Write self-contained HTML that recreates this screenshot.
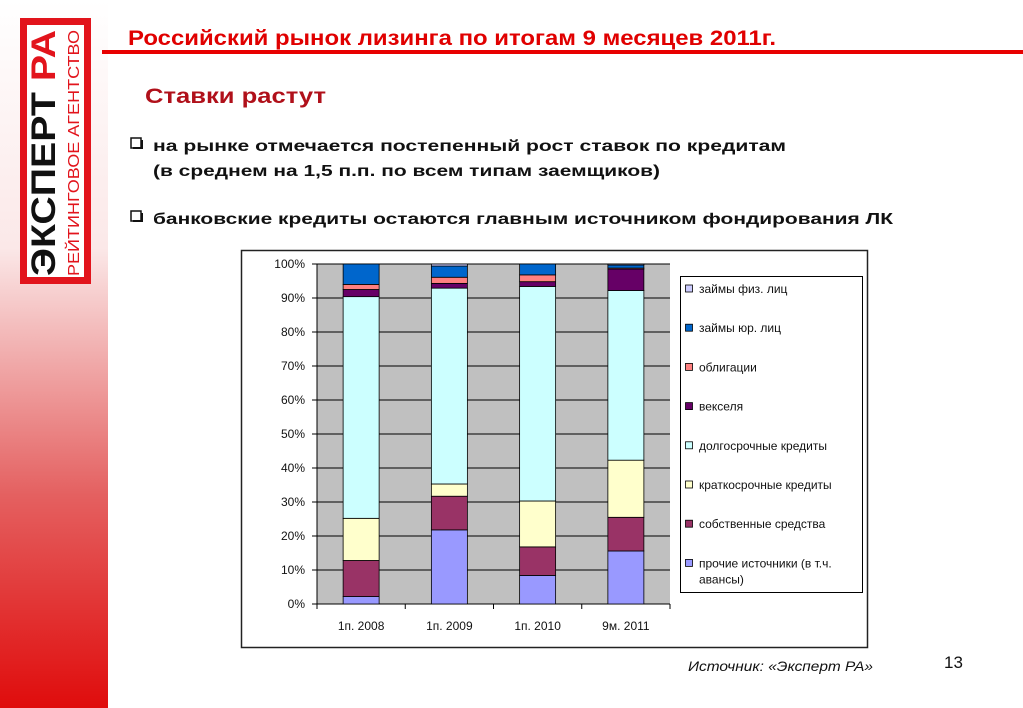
<!DOCTYPE html>
<html><head><meta charset="utf-8"><style>
html,body{margin:0;padding:0;background:#fff;}
svg{display:block;font-family:"Liberation Sans","DejaVu Sans",sans-serif;}
</style></head><body>
<svg id="root" width="1023" height="708" viewBox="0 0 1023 708" xmlns="http://www.w3.org/2000/svg">
<defs>
<linearGradient id="lg" x1="0" y1="0" x2="0" y2="1">
<stop offset="0" stop-color="#ffffff"/><stop offset="0.35" stop-color="#fbe8e8"/><stop offset="0.7" stop-color="#e46060"/><stop offset="1" stop-color="#e00c0c"/>
</linearGradient>
</defs>
<rect x="0" y="0" width="108" height="708" fill="url(#lg)"/>
<g>
<rect x="20" y="18" width="71" height="266" fill="#e2141c"/>
<rect x="27" y="25" width="57" height="252" fill="#fff"/>
<text transform="translate(55,276) rotate(-90)" font-size="34" font-weight="bold" textLength="246" lengthAdjust="spacingAndGlyphs" fill="#111">ЭКСПЕРТ <tspan fill="#e2141c">РА</tspan></text>
<text transform="translate(79,276) rotate(-90)" font-size="16" fill="#e2141c" textLength="246" lengthAdjust="spacingAndGlyphs">РЕЙТИНГОВОЕ АГЕНТСТВО</text>
</g>
<rect x="102" y="50" width="921" height="4" fill="#e80000"/>
<text x="128" y="45" font-size="21" font-weight="bold" fill="#e00000" textLength="648" lengthAdjust="spacingAndGlyphs">Российский рынок лизинга по итогам 9 месяцев 2011г.</text>
<text x="145" y="103" font-size="21" font-weight="bold" fill="#b0101a" textLength="181" lengthAdjust="spacingAndGlyphs">Ставки растут</text>
<g font-size="16" font-weight="bold" fill="#111">
<rect x="131" y="138" width="10" height="10" fill="#fff" stroke="#111" stroke-width="1.5"/><rect x="133" y="147" width="10" height="2" fill="#111"/><rect x="141" y="140" width="2" height="9" fill="#111"/>
<text x="153" y="151" textLength="633" lengthAdjust="spacingAndGlyphs">на рынке отмечается постепенный рост  ставок по кредитам</text>
<text x="153" y="176" textLength="507" lengthAdjust="spacingAndGlyphs">(в среднем на 1,5 п.п. по всем типам заемщиков)</text>
<rect x="131" y="211" width="10" height="10" fill="#fff" stroke="#111" stroke-width="1.5"/><rect x="133" y="220" width="10" height="2" fill="#111"/><rect x="141" y="213" width="2" height="9" fill="#111"/>
<text x="153" y="224" textLength="740" lengthAdjust="spacingAndGlyphs">банковские кредиты остаются главным источником фондирования ЛК</text>
</g>
<rect x="241.5" y="250.5" width="626" height="397" fill="#fff" stroke="#222" stroke-width="1.5"/>
<g id="chart"></g>
<text x="688" y="671" font-size="14" font-style="italic" fill="#111" textLength="185" lengthAdjust="spacingAndGlyphs">Источник: «Эксперт РА»</text>
<text x="944" y="668" font-size="17" fill="#111">13</text>
</svg>
<script>
const categories = ["1п. 2008","1п. 2009","1п. 2010","9м. 2011"];
const seriesNames = ["прочие источники (в т.ч. авансы)","собственные средства","краткосрочные кредиты","долгосрочные кредиты","векселя","облигации","займы юр. лиц","займы физ. лиц"];
const prochie = [2.2, 21.8, 8.4, 15.6];
const sobstv = [10.6, 9.9, 8.4, 9.9];
const kratko = [12.4, 3.6, 13.5, 16.8];
const dolgo = [65.2, 57.6, 63.1, 49.9];
const veksel = [2.1, 1.4, 1.4, 6.3];
const oblig = [1.5, 1.8, 2.0, 0.3];
const zaimYur = [6.0, 3.3, 3.2, 0.9];
const zaimFiz = [0.0, 0.6, 0.0, 0.3];
const yTicks = [0,10,20,30,40,50,60,70,80,90,100];

const series = [prochie, sobstv, kratko, dolgo, veksel, oblig, zaimYur, zaimFiz];
const colors = ["#9999ff","#993366","#ffffcc","#ccffff","#660066","#ff8080","#0066cc","#ccccff"];
const NS = "http://www.w3.org/2000/svg";
const g = document.getElementById('chart');
const px0 = 317, px1 = 670, py0 = 604, py1 = 264;
const y = v => py0 - (v/100)*(py0-py1);
const bw = (px1-px0)/categories.length;
const x = i => px0 + bw*i + bw/2;
function mk(tag, attrs){ const e=document.createElementNS(NS,tag); for(const k in attrs) e.setAttribute(k,attrs[k]); g.appendChild(e); return e; }
const bg = mk('rect',{x:px0,y:py1,width:px1-px0,height:py0-py1,fill:'#c0c0c0'});


yTicks.forEach(t=>{
  const ln = mk('line',{x1:px0-5,x2:px1,y1:y(t),y2:y(t),stroke:'#000','stroke-width':1});
  
  
  const tx = mk('text',{x:px0-12,y:y(t)+4,'font-size':12,'text-anchor':'end',fill:'#111'});
  tx.textContent = t+'%';
  
  
});
const ax = mk('line',{x1:px0,x2:px0,y1:py1,y2:py0,stroke:'#000'});


const bx = mk('line',{x1:px0,x2:px1,y1:py0,y2:py0,stroke:'#000'});


for(let i=0;i<=categories.length;i++){
  const tk = mk('line',{x1:px0+bw*i,x2:px0+bw*i,y1:py0,y2:py0+5,stroke:'#000'});
  
  
}
categories.forEach((c,i)=>{
  let acc=0;
  series.forEach((s,j)=>{
    const v=s[i]; if(v<=0){return;}
    const r = mk('rect',{x:x(i)-18,y:y(acc+v),width:36,height:y(acc)-y(acc+v),fill:colors[j],stroke:'#000','stroke-width':0.8});
    
    
    acc+=v;
  });
  const lb = mk('text',{x:x(i),y:py0+26,'font-size':12,'text-anchor':'middle',fill:'#111'});
  lb.textContent=c;
  
  
});
const lg = mk('rect',{x:680.5,y:276.5,width:182,height:316,fill:'#fff',stroke:'#000'});


for(let k=0;k<8;k++){
  const j = 7-k;
  const yy = 290 + k*39.2;
  const sw = mk('rect',{x:685.5,y:yy-5,width:7,height:7,fill:colors[j],stroke:'#000','stroke-width':0.8});
  
  
  const t = mk('text',{x:699,y:yy+3,'font-size':12,fill:'#111'});
  
  
  if(j===0){ t.textContent='прочие источники (в т.ч.'; const t2=mk('text',{x:699,y:yy+19,'font-size':12,fill:'#111'}); t2.textContent='авансы)';
    
     }
  else t.textContent=seriesNames[j];
}
</script>
</body></html>
